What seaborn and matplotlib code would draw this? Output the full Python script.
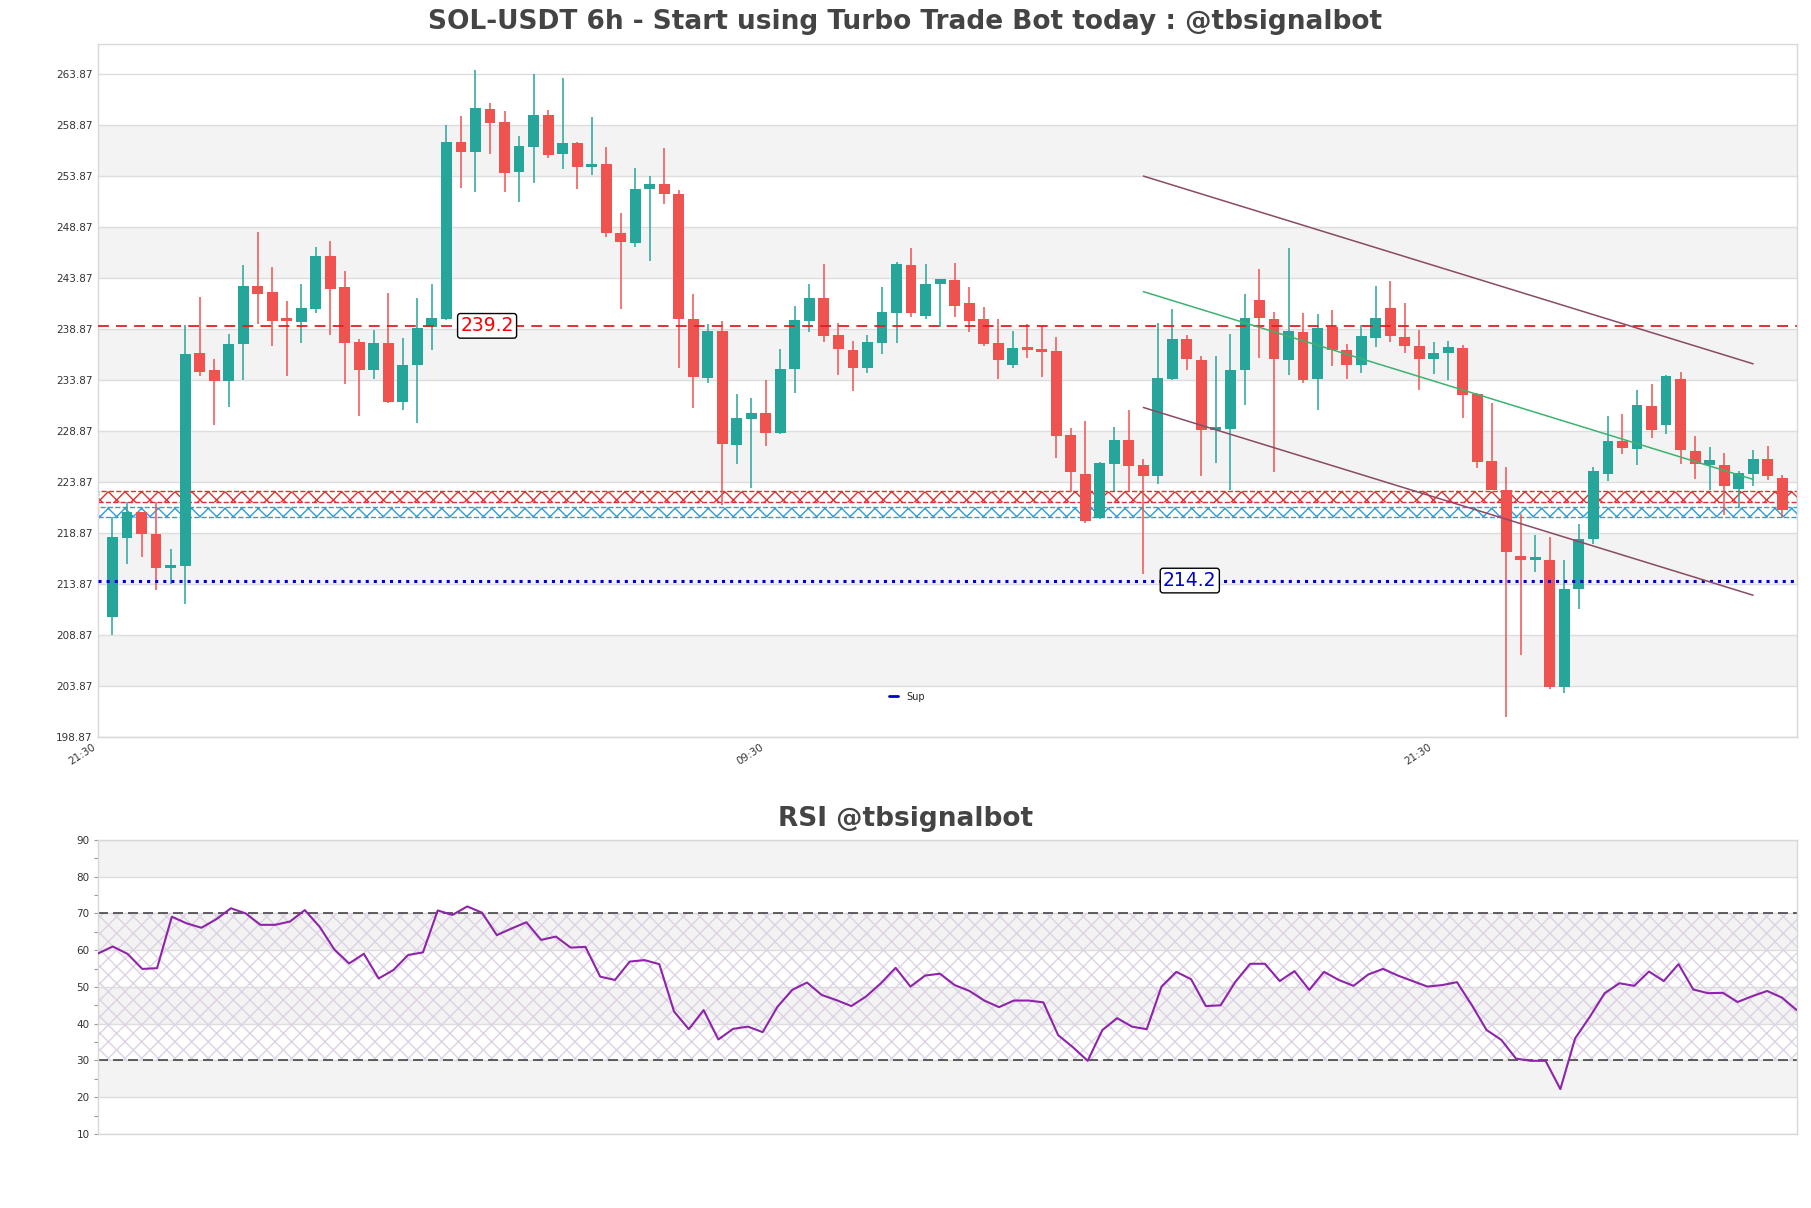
import numpy as np
import seaborn as sns
import matplotlib.pyplot as plt
from matplotlib.lines import Line2D

# 6h candles
opens = [210.63, 218.38, 220.89, 218.80, 215.40, 215.63, 236.50, 234.88, 233.74, 237.37,
         243.12, 242.53, 239.80, 239.62, 240.83, 246.06, 242.99, 237.60, 234.88, 237.50,
         231.71, 235.37, 239.13, 239.92, 257.24, 256.26, 260.44, 259.16, 254.29, 256.78,
         259.88, 256.03, 257.10, 254.82, 255.08, 248.35, 247.30, 252.66, 253.12, 252.14,
         239.85, 234.07, 238.74, 227.53, 230.08, 230.63, 228.67, 234.92, 239.72, 241.97,
         238.32, 236.84, 235.11, 237.56, 240.50, 245.18, 240.18, 243.28, 243.71, 241.45,
         239.85, 237.50, 235.31, 237.14, 236.91, 236.74, 228.45, 224.69, 220.37, 225.67,
         228.02, 225.50, 224.43, 233.97, 237.92, 235.86, 229.00, 229.03, 234.82, 241.75,
         239.85, 235.86, 238.58, 234.00, 239.13, 236.84, 235.31, 238.05, 241.00, 238.12,
         237.24, 235.93, 236.58, 237.01, 232.50, 225.90, 223.05, 216.58, 216.26, 216.19,
         203.71, 213.41, 218.31, 224.69, 227.89, 227.14, 231.29, 229.49, 233.97, 226.88,
         225.57, 225.50, 223.22, 224.62, 226.16, 224.30]
highs = [220.44, 221.90, 220.95, 221.90, 217.27, 239.30, 242.07, 235.96, 238.40, 245.18,
         248.41, 244.98, 241.65, 243.28, 246.94, 247.53, 244.59, 237.92, 238.80, 242.40,
         237.99, 241.97, 243.28, 258.87, 259.78, 264.30, 261.09, 260.28, 257.82, 263.94,
         260.37, 263.54, 257.20, 259.72, 256.78, 250.24, 254.72, 253.94, 256.68, 252.50,
         242.34, 239.39, 239.69, 232.50, 232.10, 233.90, 236.94, 241.16, 243.31, 245.27,
         239.46, 237.73, 238.31, 243.05, 245.50, 246.88, 245.27, 243.80, 245.40, 243.02,
         241.09, 239.88, 238.71, 239.39, 239.23, 238.15, 229.16, 229.85, 225.83, 229.26,
         230.90, 226.16, 239.52, 240.83, 238.31, 236.20, 236.25, 238.41, 242.34, 244.79,
         240.54, 246.81, 240.44, 240.37, 240.76, 237.43, 239.29, 243.12, 243.64, 241.42,
         238.80, 237.60, 237.73, 237.34, 232.60, 231.62, 225.34, 220.77, 218.64, 218.48,
         216.19, 219.78, 225.34, 230.40, 230.57, 232.92, 233.51, 234.39, 234.65, 228.35,
         227.30, 226.71, 224.95, 226.97, 227.37, 224.52]
lows = [208.84, 215.86, 216.50, 213.25, 213.90, 211.90, 234.23, 229.50, 231.20, 233.90,
        239.39, 237.27, 234.23, 237.50, 240.50, 238.35, 233.48, 230.40, 234.00, 231.60,
        230.90, 229.65, 236.78, 239.80, 252.76, 252.37, 256.09, 252.37, 251.39, 253.25,
        255.63, 254.59, 252.66, 254.00, 247.89, 240.83, 246.97, 245.60, 251.12, 235.11,
        231.13, 233.58, 221.58, 225.67, 223.28, 227.40, 228.60, 232.60, 238.58, 237.66,
        234.33, 232.76, 234.56, 236.45, 237.56, 240.11, 239.85, 239.07, 240.05, 238.55,
        237.24, 233.97, 235.05, 236.09, 234.16, 226.22, 222.89, 219.85, 220.27, 222.99,
        222.99, 214.88, 223.70, 233.90, 234.88, 224.50, 225.77, 223.05, 231.39, 236.09,
        224.85, 234.33, 233.58, 230.96, 235.21, 233.97, 234.56, 237.17, 237.66, 236.58,
        232.92, 234.46, 233.90, 230.14, 225.24, 223.05, 200.77, 206.88, 215.05, 203.51,
        203.12, 211.45, 217.82, 223.93, 226.65, 225.57, 228.18, 228.61, 225.67, 224.20,
        223.12, 220.60, 221.42, 223.45, 224.03, 220.44]
closes = [218.45, 220.89, 218.77, 215.40, 215.70, 236.45, 234.70, 233.74, 237.43, 243.12,
          242.34, 239.72, 239.70, 240.96, 246.06, 242.86, 237.56, 234.82, 237.53, 231.71,
          235.37, 239.00, 239.95, 257.24, 256.26, 260.54, 259.13, 254.23, 256.84, 259.88,
          255.99, 257.10, 254.82, 255.08, 248.35, 247.46, 252.63, 253.12, 252.10, 239.85,
          234.16, 238.74, 227.63, 230.14, 230.67, 228.67, 234.98, 239.78, 241.97, 238.25,
          236.91, 235.11, 237.63, 240.60, 245.27, 240.50, 243.31, 243.77, 241.19, 239.72,
          237.40, 235.80, 237.01, 236.84, 236.61, 228.38, 224.85, 220.05, 225.73, 228.02,
          225.44, 224.43, 234.07, 237.92, 235.93, 228.94, 229.20, 234.88, 239.95, 240.01,
          235.96, 238.71, 233.90, 238.97, 236.78, 235.31, 238.22, 239.95, 238.25, 237.27,
          235.99, 236.52, 237.11, 232.43, 225.83, 223.05, 217.01, 216.26, 216.35, 203.71,
          213.41, 218.31, 224.92, 227.86, 227.24, 231.39, 229.00, 234.29, 226.97, 225.67,
          226.00, 223.48, 224.75, 226.09, 224.46, 221.16]

rsi = [59.1, 61.0, 59.0, 54.9, 55.1, 69.1, 67.3, 66.1, 68.4, 71.4,
       70.0, 66.9, 66.9, 67.8, 70.9, 66.4, 60.2, 56.4, 59.0, 52.3,
       54.6, 58.7, 59.4, 70.8, 69.6, 71.9, 70.2, 64.1, 65.9, 67.6,
       62.8, 63.7, 60.7, 60.9, 52.8, 51.9, 56.9, 57.3, 56.2, 43.3,
       38.5, 43.7, 35.7, 38.6, 39.2, 37.7, 44.6, 49.2, 51.2, 47.8,
       46.4, 44.8, 47.4, 51.0, 55.2, 50.1, 53.1, 53.6, 50.5, 48.9,
       46.3, 44.5, 46.3, 46.3, 45.8, 36.9, 33.6, 29.9, 38.3, 41.5,
       39.2, 38.5, 50.1, 54.1, 52.1, 44.8, 45.0, 51.4, 56.3, 56.3,
       51.6, 54.3, 49.2, 54.1, 51.9, 50.3, 53.4, 54.9, 53.1, 51.6,
       50.1, 50.5, 51.3, 45.1, 38.3, 35.6, 30.5, 29.9, 29.9, 22.2,
       36.0, 41.9, 48.3, 51.0, 50.3, 54.2, 51.6, 56.2, 49.3, 48.3,
       48.4, 45.9, 47.5, 48.9, 47.1, 43.7]

tick_pos = [-1, 45, 91]
tick_labels = ['21:30', '09:30', '21:30']

resistance = 239.2
support = 214.2
red_zone = (221.9, 223.0)
blue_zone = (220.4, 221.4)

# channel lines (start idx, end idx, start price, end price)
chan_x = [71, 113]
chan_upper = [253.9, 235.47]
chan_mid = [242.56, 224.13]
chan_lower = [231.19, 212.76]

UP = '#26a69a'
DOWN = '#ef5350'

sns.set_theme(style='white')
plt.rcParams['hatch.linewidth'] = 1.0

fig = plt.figure(figsize=(18.11, 12.08), dpi=100)
ax = fig.add_axes([0.0541, 0.3901, 0.938, 0.5738])
ax2 = fig.add_axes([0.0541, 0.0613, 0.938, 0.2434])

o = np.array(opens)
c = np.array(closes)
h = np.array(highs)
l = np.array(lows)
idx = np.arange(len(o))
cols = [UP if cc >= oo else DOWN for oo, cc in zip(o, c)]

ymin, ymax = 198.87, 266.9
ticks = np.arange(198.87, 266, 5)
for k in range(len(ticks) - 1):
    if k % 2 == 1:
        ax.axhspan(ticks[k], ticks[k + 1], color='#f3f3f3', zorder=0, lw=0)
for t in ticks:
    ax.axhline(t, color='#dddddd', lw=1, zorder=0.5)

ax.vlines(idx, l, h, colors=cols, lw=1.1, zorder=2)
body = np.maximum(np.abs(c - o), 0.25)
ax.bar(idx, body, bottom=np.minimum(o, c), width=0.75, color=cols, lw=0, zorder=3)

ax.axhspan(*red_zone, facecolor='none', edgecolor='#e03030', hatch='xx', ls='--', lw=1, zorder=1.5)
ax.axhspan(*blue_zone, facecolor='none', edgecolor='#2a9ee0', hatch='xx', ls='--', lw=1, zorder=1.5)

ax.axhline(resistance, color='#e02020', ls=(0, (6, 4)), lw=1.3, zorder=4)
ax.axhline(support, color='#0000cc', ls=':', lw=2.2, zorder=4)

ax.plot(chan_x, chan_upper, color='#8a4a64', lw=1.1, zorder=4)
ax.plot(chan_x, chan_mid, color='#3cb371', lw=1.1, zorder=4)
ax.plot(chan_x, chan_lower, color='#8a4a64', lw=1.1, zorder=4)

box = dict(boxstyle='round,pad=0.15', fc='white', ec='black', lw=1)
ax.text(25.8, resistance, f'{resistance}', color='red', fontsize=13.5, ha='center', va='center', bbox=box, zorder=6)
ax.text(74.2, support, f'{support}', color='#0000cc', fontsize=13.5, ha='center', va='center', bbox=box, zorder=6)

ax.set_xlim(-1, len(o))
ax.set_ylim(ymin, ymax)
ax.set_yticks(ticks)
ax.set_yticklabels([f'{t:.2f}' for t in ticks], fontsize=7.5, color='#333333')
ax.set_xticks(tick_pos)
ax.set_xticklabels(tick_labels, rotation=33, ha='right', fontsize=7.5, color='#333333')
ax.tick_params(axis='both', length=0, pad=4)
for s in ax.spines.values():
    s.set_color('#d8d8d8')
    s.set_linewidth(1)

leg_handle = [Line2D([0], [0], color='#0000cc', lw=2)]
ax.legend(leg_handle, ['Sup'], loc='center', bbox_to_anchor=(0.476, 0.058), frameon=False,
          fontsize=7, handlelength=1.0, handletextpad=0.8)

# RSI panel
rticks = np.arange(10, 91, 10)
for k in range(len(rticks) - 1):
    if k % 2 == 1:
        ax2.axhspan(rticks[k], rticks[k + 1], color='#f3f3f3', zorder=0, lw=0)
for t in rticks:
    ax2.axhline(t, color='#dddddd', lw=1, zorder=0.5)
ridx = np.arange(len(rsi))
ax2.fill_between(ridx, 30, 70, facecolor='none', edgecolor='#ddd2e4', hatch='xx', lw=0, zorder=1)
ax2.axhline(70, color='#444444', ls=(0, (6, 3)), lw=1.2, zorder=2)
ax2.axhline(30, color='#444444', ls=(0, (6, 3)), lw=1.2, zorder=2)
sns.lineplot(x=ridx, y=rsi, ax=ax2, color='#8e24aa', lw=1.5, zorder=3)
ax2.set_xlim(0, len(rsi) - 1)
ax2.set_ylim(10, 90)
ax2.set_yticks(rticks)
ax2.set_yticks(np.arange(15, 90, 10), minor=True)
ax2.set_yticklabels([str(t) for t in rticks], fontsize=7.5, color='#333333')
ax2.set_xticks([])
ax2.tick_params(axis='y', which='both', length=3, width=0.8, color='#999999', left=True, pad=3)
for s in ax2.spines.values():
    s.set_color('#d8d8d8')
    s.set_linewidth(1)

fig.text(0.5, 0.982, 'SOL-USDT 6h - Start using Turbo Trade Bot today : @tbsignalbot',
         ha='center', va='center', fontsize=19, fontweight='bold', color='#444444')
fig.text(0.5, 0.322, 'RSI @tbsignalbot', ha='center', va='center',
         fontsize=19, fontweight='bold', color='#444444')

fig.savefig('out.png', dpi=100)
